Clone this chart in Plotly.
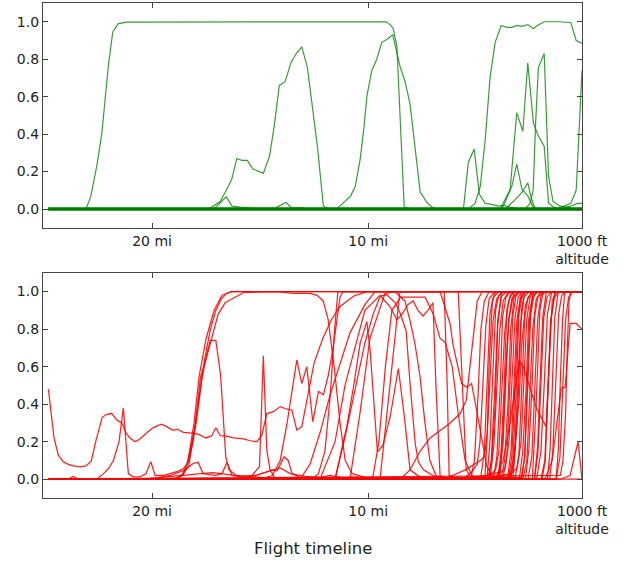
import plotly.graph_objects as go

# ---------------------------------------------------------------------------
# Data: each series is (miles-to-go, probability) breakpoints along the
# approach.  The timeline ends at the 1000 ft altitude gate.
# ---------------------------------------------------------------------------
X_START = 24.81
X_END = 0.1

tick_positions = [20, 10, X_END]
tick_labels = ["20 mi", "10 mi", "1000 ft<br>altitude"]
y_ticks = [0.0, 0.2, 0.4, 0.6, 0.8, 1.0]

# upper panel (green)
green_baseline_x = [X_START, X_END]
green_baseline_y = [0, 0]

green_x = [
    [X_START, 23.06, 22.84, 22.56, 22.33, 22.18, 22.02, 21.82, 21.56, 21.17, 9.18, 9.03, 8.84, 8.67, 8.52, 8.33, 8.06, X_END],
    [X_START, 11.45, 10.99, 10.83, 10.60, 10.37, 10.19, 10.06, 9.83, 9.60, 9.37, 9.13, 8.86, 8.52, 8.29, 8.06, 7.82, 7.59, 7.28, 7.04, 6.81, X_END],
    [X_START, 17.55, 17.31, 16.85, 16.54, 16.31, 16.08, 15.85, 15.59, 15.34, 14.85, 14.57, 14.35, 14.11, 13.84, 13.58, 13.33, 13.07, 12.81, 12.61, 12.35, 12.07, 11.76, X_END],
    [X_START, 17.13, 16.57, 16.30, 15.93, 15.23, 14.31, 13.80, 13.52, 13.15, 12.69, X_END],
    [X_START, 5.59, 5.36, 5.09, 4.85, 4.58, 4.27, 3.97, 3.75, 3.43, 2.96, X_END],
    [X_START, 5.37, 5.05, 4.81, 4.58, 4.35, 4.12, 3.84, 3.58, 3.35, 3.12, 2.88, 2.61, 2.35, 2.12, 1.85, 1.26, 0.62, 0.37, X_END],
    [X_START, 3.89, 3.74, 3.43, 3.12, 2.84, 2.61, 2.35, 2.12, 1.85, 1.65, 1.42, 1.11, X_END],
    [X_START, 2.73, 2.50, 2.36, 2.25, 2.12, 1.85, 1.65, 1.44, 1.11, 0.79, 0.42, X_END],
    [X_START, 3.89, 3.35, 3.12, 2.88, 2.61, 2.36, 2.04, X_END],
    [X_START, 3.66, 3.19, 2.87, 2.61, 2.45, 2.27, X_END],
    [X_START, 1.30, 0.97, 0.62, 0.37, X_END],
    [X_START, 1.11, 0.65, 0.32, X_END],
]
green_y = [
    [0, 0, 0.066, 0.23, 0.40, 0.585, 0.77, 0.945, 0.99, 0.998, 1.0, 0.99, 0.965, 0.87, 0.48, 0.01, 0, 0],
    [0, 0, 0.05, 0.065, 0.12, 0.265, 0.44, 0.60, 0.74, 0.80, 0.89, 0.905, 0.93, 0.76, 0.68, 0.56, 0.32, 0.09, 0.035, 0.01, 0, 0],
    [0, 0, 0.005, 0.04, 0.105, 0.16, 0.27, 0.26, 0.26, 0.215, 0.19, 0.28, 0.44, 0.66, 0.68, 0.78, 0.83, 0.866, 0.755, 0.585, 0.336, 0.015, 0, 0],
    [0, 0, 0.065, 0.015, 0.01, 0.003, 0.005, 0.035, 0.005, 0.008, 0, 0],
    [0, 0, 0.25, 0.32, 0.078, 0.03, 0.025, 0.015, 0.02, 0.01, 0, 0],
    [0, 0, 0.03, 0.12, 0.37, 0.71, 0.89, 0.98, 0.97, 0.97, 0.98, 0.975, 0.985, 0.964, 0.982, 1.0, 1.0, 0.996, 0.90, 0.885],
    [0, 0, 0.015, 0.10, 0.515, 0.415, 0.78, 0.46, 0.39, 0.336, 0.034, 0.01, 0, 0],
    [0, 0, 0.03, 0.1, 0.45, 0.755, 0.83, 0.175, 0.04, 0.015, 0.01, 0, 0],
    [0, 0, 0.12, 0.24, 0.105, 0.07, 0.01, 0, 0],
    [0, 0, 0.05, 0.09, 0.14, 0.06, 0, 0],
    [0, 0, 0.015, 0.03, 0.1, 0.74],
    [0, 0, 0.015, 0.03, 0.03],
]

# lower panel (red)
red_x = [
    [24.80, 24.54, 24.34, 24.11, 23.88, 23.64, 23.33, 23.06, 22.82, 22.59, 22.31, 22.10, 21.87, 21.63, 21.40, 21.20, 21.02, 20.79, 20.56, 20.25,
     19.94, 19.58, 19.32, 19.06, 18.83, 18.55, 18.16, 17.86, 17.51, 17.24, 17.05, 16.85, 16.54, 16.24, 15.77, 15.46, 15.15, 14.92, 14.69, 14.38,
     14.07, 13.76, 13.53, 13.30, 13.07, 12.80, 12.50, 12.10, 11.70, 11.30, 10.68, 10.06, X_END],
    [X_START, 22.56, 22.25, 22.02, 21.79, 21.53, 21.33, 21.10, 20.87, 20.56, 20.28, 20.06, 19.86, 19.48, 19.17, 18.86, 18.55, 18.32, 18.10, 17.85, 17.60, 17.30, 17.05, 16.80, 16.55, 16.30, X_END],
    [X_START, 19.0, 18.6, 18.3, 18.0, 17.75, 17.6, 17.31, 17.05, 16.83, 16.59, 16.44, 16.1, 15.0, 14.0, 9.8, 9.5, 9.2, 8.9, 8.5,
     7.36, 6.99, 6.67, 6.44, 6.11, 5.83, 5.51, 5.19, 4.81, 2.20, 2.00, 1.85, 1.70, 1.50, X_END],
    [X_START, 19.17, 18.80, 18.56, 18.33, 18.06, 17.82, 17.50, 17.13, 16.76, 16.34, X_END],
    [X_START, 18.94, 18.61, 18.38, 17.96, 17.69, 17.55, 17.22, 16.94, 16.62, 16.11, 15.74, 14.21, 13.47, 12.69, 12.36, 12.08, 11.85, 11.57, 11.30,
     11.06, 10.74, 10.14, 9.44, 4.60, 4.50, 4.40, 4.25, 4.10, X_END],
    [X_START, 15.93, 15.46, 15.03, 14.85, 14.69, 14.54, 14.31, 13.61, 3.50, 3.35, 3.20, 3.05, 2.90, X_END],
    [X_START, 20.09, 19.17, 18.47, 18.10, 17.87, 17.64, 17.08, 16.76, 16.53, 16.30, 15.69, 15.19, 14.91, 14.44, 14.21, 13.89, 13.70, 13.52, 13.15,
     12.69, 2.30, 2.15, 2.04, 1.92, 1.75, X_END],
    [X_START, 20.56, 19.63, 18.70, 17.78, 17.22, 16.76, 15.93, 15.23, 14.77, 14.31, 14.07, 13.61, 12.92, 12.22, 11.76, 11.06, 10.37, 1.95, 1.80,
     1.67, 1.55, 1.35, X_END],
    [X_START, 15.00, 14.44, 14.07, 13.75, 13.30, 13.07, 12.84, 12.56, 12.30, 12.07, 11.85, 11.62, 11.44, 11.30, 11.16, X_END],
    [X_START, 12.60, 12.30, 12.00, 11.75, 11.55, 11.40, 6.48, 6.34, 6.25, 5.74, 2.40, 2.22, 2.05, 1.90, X_END],
    [X_START, 11.53, 11.30, 10.99, 10.68, 10.37, 10.06, 9.91, 9.57, 9.32, 8.98, 8.60, 8.33, 8.06, 7.59, 7.13, 3.30, 3.10, 2.90, 2.75, X_END],
    [X_START, 11.53, 11.06, 10.60, 10.14, 9.75, 9.44, 9.14, 8.75, 8.52, 8.24, 8.06, 7.82, 7.67, 7.44, 7.00, 6.50, 2.90, 2.75, 2.64, 2.52, 2.35, X_END],
    [X_START, 12.23, 11.53, 11.07, 10.15, 9.45, 8.99, 8.67, 8.43, 8.16, 7.92, 7.69, 7.46, 7.23, 7.00, 6.86, 6.67, 6.21, 3.95, 3.78, 3.61, 3.48, 3.25, X_END],
    [X_START, 10.84, 10.38, 9.92, 9.22, 8.76, 8.30, 8.07, 7.83, 7.60, 7.37, 7.14, 6.86, 6.45, 4.45, 4.30, 4.15, 4.00, 3.80, X_END],
    [X_START, 9.45, 8.99, 8.53, 6.67, 6.21, 6.06, 5.67, 5.44, 5.21, 4.98, 4.74, 4.51, 4.27, 3.90, 1.30, 1.20, 1.11, 1.00, 0.90, X_END],
    [X_START, 4.12, 3.75, 3.43, 3.01, 2.82, 2.41, 2.18, 1.76, 1.62, 1.48, 1.30, X_END],
    [X_START, 8.52, 8.06, 7.59, 7.13, 6.67, 6.20, 5.74, 5.46, 5.19, 4.95, 4.72, X_END],
    [X_START, 13.15, 12.69, 12.22, 11.76, 11.30, 10.84, 10.15, 9.68, 5.83, 5.65, 5.46, 5.19, 1.70, 1.58, 1.48, 1.36, 1.20, X_END],
    [X_START, 1.81, 1.48, 1.25, 1.06, 0.88, 0.65, 0.37, X_END],
    [X_START, 1.11, 0.65, 0.28, X_END],
    [X_START, 23.90, 23.66, 23.40, X_END],
    # late transitions close to the gate
    [X_START, 5.25, 5.08, 4.91, 4.78, 4.62, 4.40, X_END],
    [X_START, 5.6, 5.2, 4.95, 4.82, 4.68, 4.55, 4.40, 4.15, X_END],
    [X_START, 4.80, 4.62, 4.49, 4.36, 4.20, 3.95, X_END],
    [X_START, 6.5, 5.5, 4.8, 4.62, 4.48, 4.35, 4.22, 4.05, 3.8, X_END],
    [X_START, 4.50, 4.36, 4.21, 4.10, 3.95, 3.70, X_END],
    [X_START, 4.45, 4.28, 4.12, 4.00, 3.85, 3.60, X_END],
    [X_START, 4.35, 4.18, 4.03, 3.90, 3.75, 3.50, X_END],
    [X_START, 4.20, 4.04, 3.89, 3.78, 3.62, 3.40, X_END],
    [X_START, 5.0, 4.3, 4.10, 3.95, 3.80, 3.68, 3.50, 3.30, X_END],
    [X_START, 4.00, 3.85, 3.70, 3.58, 3.42, 3.20, X_END],
    [X_START, 3.92, 3.75, 3.61, 3.50, 3.35, 3.10, X_END],
    [X_START, 3.85, 3.68, 3.52, 3.40, 3.24, 3.00, X_END],
    [X_START, 3.75, 3.58, 3.43, 3.30, 3.15, 2.90, X_END],
    [X_START, 6.0, 4.5, 3.8, 3.65, 3.48, 3.33, 3.20, 3.05, 2.85, X_END],
    [X_START, 3.55, 3.38, 3.24, 3.12, 2.96, 2.75, X_END],
    [X_START, 3.48, 3.30, 3.15, 3.02, 2.86, 2.65, X_END],
    [X_START, 3.38, 3.20, 3.06, 2.94, 2.78, 2.55, X_END],
    [X_START, 3.20, 3.02, 2.87, 2.75, 2.60, 2.35, X_END],
    [X_START, 4.6, 3.4, 3.10, 2.92, 2.78, 2.66, 2.50, 2.30, X_END],
    [X_START, 3.00, 2.84, 2.69, 2.57, 2.42, 2.20, X_END],
    [X_START, 2.92, 2.75, 2.59, 2.47, 2.32, 2.10, X_END],
    [X_START, 2.82, 2.65, 2.50, 2.38, 2.22, 2.00, X_END],
    [X_START, 2.72, 2.56, 2.41, 2.29, 2.14, 1.90, X_END],
    [X_START, 2.60, 2.42, 2.27, 2.15, 2.00, 1.75, X_END],
    [X_START, 2.30, 2.14, 1.99, 1.87, 1.72, 1.50, X_END],
    [X_START, 2.00, 1.82, 1.67, 1.55, 1.40, 1.20, X_END],
    [X_START, 1.60, 1.45, 1.30, 1.18, 1.04, 0.85, X_END],
    [X_START, 1.30, 1.12, 0.97, 0.86, 0.72, 0.55, X_END],
    [X_START, 1.10, 0.98, 0.86, 0.78, 0.70, 0.60, X_END],
    [X_START, 3.45, 3.25, 3.12, 3.01, 2.90, 2.72, 2.45, X_END],
]
red_y = [
    [0.48, 0.22, 0.128, 0.093, 0.079, 0.071, 0.066, 0.071, 0.096, 0.21, 0.33, 0.346, 0.35, 0.315, 0.30, 0.245, 0.22, 0.20, 0.214, 0.248,
     0.275, 0.293, 0.28, 0.262, 0.266, 0.25, 0.245, 0.24, 0.22, 0.232, 0.274, 0.232, 0.23, 0.22, 0.215, 0.205, 0.20, 0.235, 0.35, 0.36,
     0.387, 0.373, 0.369, 0.262, 0.28, 0.45, 0.62, 0.75, 0.85, 0.92, 0.975, 1.0, 1.0],
    [0, 0, 0.03, 0.057, 0.10, 0.20, 0.38, 0.03, 0.012, 0.012, 0.03, 0.093, 0.02, 0.02, 0.03, 0.04, 0.057, 0.09, 0.2, 0.42, 0.62, 0.8, 0.9, 0.96, 0.99, 1.0, 1.0],
    [0, 0, 0.02, 0.07, 0.3, 0.55, 0.60, 0.74, 0.74, 0.556, 0.12, 0.05, 0.02, 0.01, 0, 0, 0.2, 0.6, 0.9, 0.97,
     0.97, 0.88, 0.75, 0.73, 0.6, 0.35, 0.1, 0.02, 0, 0, 0.15, 0.5, 0.88, 1.0, 1.0],
    [0, 0, 0.01, 0.03, 0.1, 0.3, 0.55, 0.75, 0.9, 0.98, 1.0, 1.0],
    [0, 0, 0.02, 0.08, 0.3, 0.54, 0.62, 0.76, 0.88, 0.94, 0.975, 0.996, 1.0, 0.99, 0.99, 0.98, 0.95, 0.85, 0.6, 0.3,
     0.1, 0.03, 0.01, 0, 0, 0.2, 0.6, 0.95, 1.0, 1.0],
    [0, 0, 0.01, 0.066, 0.658, 0.155, 0.05, 0.005, 0, 0, 0.12, 0.5, 0.88, 1.0, 1.0],
    [0, 0, 0.02, 0.05, 0.084, 0.09, 0.03, 0.02, 0.03, 0.09, 0.02, 0.01, 0.02, 0.03, 0.05, 0.045, 0.12, 0.1, 0.03, 0.01,
     0, 0, 0.18, 0.52, 0.86, 1.0, 1.0],
    [0, 0, 0.01, 0.02, 0.03, 0.035, 0.03, 0.015, 0.02, 0.035, 0.05, 0.06, 0.03, 0.015, 0.01, 0.02, 0.005, 0, 0, 0.1,
     0.47, 0.84, 1.0, 1.0],
    [0, 0, 0.02, 0.1, 0.3, 0.636, 0.51, 0.60, 0.306, 0.467, 0.45, 0.55, 0.7, 0.85, 0.97, 1.0, 1.0],
    [0, 0, 0.03, 0.15, 0.45, 0.8, 1.0, 1.0, 0.5, 0.02, 0, 0, 0.4, 0.9, 1.0, 1.0],
    [0, 0, 0.12, 0.28, 0.49, 0.725, 0.84, 0.69, 0.146, 0.18, 0.333, 0.59, 0.34, 0.05, 0.01, 0, 0, 0.3, 0.9, 1.0, 1.0],
    [0, 0, 0.23, 0.49, 0.73, 0.886, 0.975, 0.984, 0.94, 0.886, 0.79, 0.51, 0.19, 0.09, 0.05, 0.02, 0, 0, 0.12, 0.5, 0.86, 1.0, 1.0],
    [0, 0, 0.2, 0.5, 0.9, 0.98, 0.92, 0.85, 0.88, 0.93, 0.95, 0.9, 0.87, 0.9, 0.94, 0.5, 0.02, 0, 0, 0.2, 0.62, 0.85, 1.0, 1.0],
    [0, 0, 0.35, 0.75, 0.99, 1.0, 0.95, 0.85, 0.72, 0.55, 0.3, 0.1, 0.02, 0, 0, 0.1, 0.45, 0.85, 1.0, 1.0],
    [0, 0, 0.5, 1.0, 1.0, 0.83, 0.71, 0.51, 0.49, 0.51, 0.37, 0.21, 0.07, 0.02, 0, 0, 0.15, 0.5, 0.85, 1.0, 1.0],
    [0, 0, 0.1, 0.3, 0.63, 0.6, 0.45, 0.37, 0.28, 0.6, 0.95, 1.0, 1.0],
    [0, 0, 0.05, 0.15, 0.22, 0.26, 0.3, 0.35, 0.42, 0.7, 0.95, 1.0, 1.0],
    [0, 0, 0.08, 0.25, 0.45, 0.62, 0.78, 0.93, 1.0, 1.0, 0.5, 0.05, 0, 0, 0.15, 0.5, 0.86, 1.0, 1.0],
    [0, 0, 0.1, 0.3, 0.485, 0.49, 0.83, 0.83, 0.80],
    [0, 0, 0.02, 0.2, 0.0],
    [0, 0, 0.015, 0, 0],
    [0, 0, 0.1, 0.45, 0.8, 0.95, 1, 1],
    [0, 0, 0.04, 0.08, 0.2, 0.5, 0.82, 0.96, 1, 1],
    [0, 0, 0.15, 0.52, 0.88, 0.97, 1, 1],
    [0, 0, 0.05, 0.1, 0.12, 0.25, 0.55, 0.84, 0.96, 1, 1],
    [0, 0, 0.2, 0.6, 0.9, 0.98, 1, 1],
    [0, 0, 0.1, 0.4, 0.82, 0.97, 1, 1],
    [0, 0.01, 0.18, 0.55, 0.8, 0.95, 1, 1],
    [0, 0, 0.12, 0.48, 0.86, 0.97, 1, 1],
    [0, 0, 0.03, 0.05, 0.15, 0.5, 0.78, 0.95, 1, 1],
    [0, 0, 0.14, 0.5, 0.9, 0.98, 1, 1],
    [0, 0, 0.2, 0.62, 0.85, 0.96, 1, 1],
    [0, 0, 0.1, 0.42, 0.8, 0.97, 1, 1],
    [0, 0.01, 0.12, 0.5, 0.87, 0.98, 1, 1],
    [0, 0, 0.02, 0.04, 0.06, 0.2, 0.55, 0.86, 0.97, 1, 1],
    [0, 0, 0.16, 0.5, 0.84, 0.96, 1, 1],
    [0, 0, 0.1, 0.46, 0.88, 0.98, 1, 1],
    [0, 0.01, 0.18, 0.55, 0.83, 0.97, 1, 1],
    [0, 0, 0.13, 0.5, 0.86, 0.97, 1, 1],
    [0, 0, 0.03, 0.06, 0.2, 0.52, 0.85, 0.97, 1, 1],
    [0, 0, 0.15, 0.48, 0.85, 0.96, 1, 1],
    [0, 0, 0.12, 0.55, 0.88, 0.98, 1, 1],
    [0, 0.01, 0.1, 0.45, 0.8, 0.96, 1, 1],
    [0, 0, 0.16, 0.5, 0.87, 0.97, 1, 1],
    [0, 0, 0.12, 0.52, 0.85, 0.98, 1, 1],
    [0, 0, 0.14, 0.5, 0.86, 0.97, 1, 1],
    [0, 0, 0.1, 0.47, 0.84, 0.96, 1, 1],
    [0, 0, 0.15, 0.55, 0.88, 0.98, 1, 1],
    [0, 0, 0.12, 0.5, 0.85, 0.97, 1, 1],
    [0, 0.02, 0.1, 0.35, 0.7, 0.95, 1, 1],
    [0, 0, 0.08, 0.3, 0.42, 0.7, 0.93, 1, 1],
]

for xs, ys in list(zip(green_x, green_y)) + list(zip(red_x, red_y)):
    assert len(xs) == len(ys), (len(xs), len(ys))

# ---------------------------------------------------------------------------
GREEN = "rgba(0,128,0,0.78)"
RED = "rgba(255,0,0,0.88)"
FRAME = "#444444"
FONT = "DejaVu Sans"

fig = go.Figure()

fig.add_trace(go.Scatter(x=green_baseline_x, y=green_baseline_y, mode="lines",
                         line=dict(color="#007a00", width=3.6),
                         xaxis="x", yaxis="y", hoverinfo="skip", showlegend=False))
for xs, ys in zip(green_x, green_y):
    fig.add_trace(go.Scatter(x=xs, y=ys, mode="lines",
                             line=dict(color=GREEN, width=1.2),
                             xaxis="x", yaxis="y", hoverinfo="skip", showlegend=False))

for xs, ys in zip(red_x, red_y):
    fig.add_trace(go.Scatter(x=xs, y=ys, mode="lines",
                             line=dict(color=RED, width=1.25),
                             xaxis="x2", yaxis="y2", hoverinfo="skip", showlegend=False))

x_common = dict(range=[25.05, X_END], tickmode="array", tickvals=tick_positions,
                ticktext=tick_labels, ticks="inside", ticklen=5, tickwidth=1,
                tickcolor=FRAME, showline=True, linecolor=FRAME, linewidth=1.3,
                mirror="ticks", showgrid=False, zeroline=False,
                tickfont=dict(family=FONT, size=14, color="#222222"))
y_common = dict(range=[-0.1, 1.1], tickmode="array", tickvals=y_ticks,
                tickformat=".1f", ticks="inside", ticklen=5, tickwidth=1,
                tickcolor=FRAME, showline=True, linecolor=FRAME, linewidth=1.3,
                mirror="ticks", showgrid=False, zeroline=False,
                tickfont=dict(family=FONT, size=14, color="#222222"))

fig.update_layout(
    width=624, height=565, autosize=False,
    margin=dict(l=43, r=42, t=3, b=67),
    paper_bgcolor="white", plot_bgcolor="white",
    font=dict(family=FONT, color="#222222"),
    xaxis=dict(domain=[0, 1], anchor="y", **x_common),
    yaxis=dict(domain=[0.546, 1.0], anchor="x", **y_common),
    xaxis2=dict(domain=[0, 1], anchor="y2", **x_common),
    yaxis2=dict(domain=[0, 0.455], anchor="x2", **y_common),
    annotations=[dict(text="Flight timeline", xref="paper", yref="paper",
                      x=0.5, y=-0.103, xanchor="center", yanchor="middle",
                      showarrow=False, font=dict(family=FONT, size=16.5, color="#222222"))],
)

fig.write_html("out.html")
